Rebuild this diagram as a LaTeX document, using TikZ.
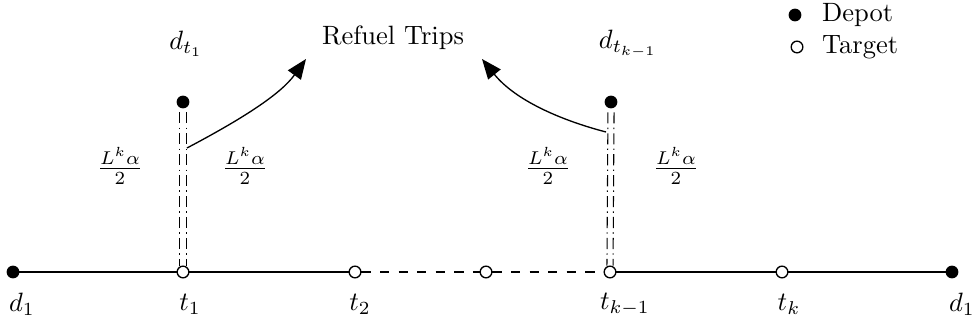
\documentclass[tikz,border=0pt]{standalone}
\usetikzlibrary{arrows.meta}
\begin{document}
\begin{tikzpicture}[x=0.3774pt,y=-0.3774pt,
  depot/.style={circle,fill=black,draw=black,inner sep=0pt,minimum size=4.4pt},
  target/.style={circle,fill=white,draw=black,line width=0.5pt,inner sep=0pt,minimum size=4.4pt},
  lbl/.style={inner sep=1pt},
  edge/.style={line width=0.55pt},
  dedge/.style={line width=0.55pt,dash pattern=on 3.5pt off 3.5pt},
  ddot/.style={line width=0.4pt,dash pattern=on 4.2pt off 1.6pt on 0.5pt off 1.6pt},
  arr/.style={line width=0.5pt,-{Triangle[length=7.5pt,width=6pt]}}]
\useasboundingbox (0,0) rectangle (977,326);
% main line
\node[depot] (d1) at (13,272) {};
\node[target] (t1) at (183,272) {};
\node[target] (t2) at (355,272) {};
\node[target] (tm) at (486,272) {};
\node[target] (tk1) at (610,272) {};
\node[target] (tk) at (782,272) {};
\node[depot] (d1b) at (952,272) {};
\draw[edge] (d1) -- (t1);
\draw[edge] (t1) -- (t2);
\draw[dedge] (t2) -- (tm);
\draw[dedge] (tm) -- (tk1);
\draw[edge] (tk1) -- (tk);
\draw[edge] (tk) -- (d1b);
% labels below
\node[lbl] (l1) at (22,304) {$d_1$};
\node[lbl] (l2) at (190,304) {$t_1$};
\node[lbl] (l3) at (360,304) {$t_2$};
\node[lbl] (l4) at (625,304) {$t_{k-1}$};
\node[lbl] (l5) at (789,304) {$t_k$};
\node[lbl] (l6) at (962,304) {$d_1$};
% refuel depots
\node[depot] (dt1) at (183,102) {};
\node[depot] (dtk) at (611,102) {};
\node[lbl] (ldt1) at (186,44) {$d_{t_1}$};
\node[lbl] (ldtk) at (628,44) {$d_{t_{k-1}}$};
% double dash-dot lines
\draw[ddot] ([xshift=-1.15pt,yshift=-1.5pt]dt1.south) -- ([xshift=-1.15pt]t1.north);
\draw[ddot] ([xshift=1.15pt,yshift=-1.5pt]dt1.south) -- ([xshift=1.15pt]t1.north);
\draw[ddot] ([xshift=-1.15pt,yshift=-1.5pt]dtk.south) -- ([xshift=-1.15pt]tk1.north);
\draw[ddot] ([xshift=1.15pt,yshift=-1.5pt]dtk.south) -- ([xshift=1.15pt]tk1.north);
% fractions
\node[lbl] (f1) at (120,166) {$\frac{L^k\alpha}{2}$};
\node[lbl] (f2) at (245,166) {$\frac{L^k\alpha}{2}$};
\node[lbl] (f3) at (548,166) {$\frac{L^k\alpha}{2}$};
\node[lbl] (f4) at (676,166) {$\frac{L^k\alpha}{2}$};
% refuel trips
\node[lbl] (rt) at (393,38) {Refuel Trips};
\coordinate (a1) at (187,148);
\coordinate (e1) at (306,59);
\coordinate (a2) at (606,132);
\coordinate (e2) at (482,59);
\draw[arr] (a1) .. controls (240,120) and (280,95) .. (e1);
\draw[arr] (a2) .. controls (560,120) and (515,100) .. (e2);
% legend
\node[depot] (ld) at (795,15) {};
\node[target] (lt) at (797,47) {};
\node[lbl,anchor=west] (ldt) at (819,15) {Depot};
\node[lbl,anchor=west] (ltt) at (819,47) {Target};
\end{tikzpicture}
\end{document}
